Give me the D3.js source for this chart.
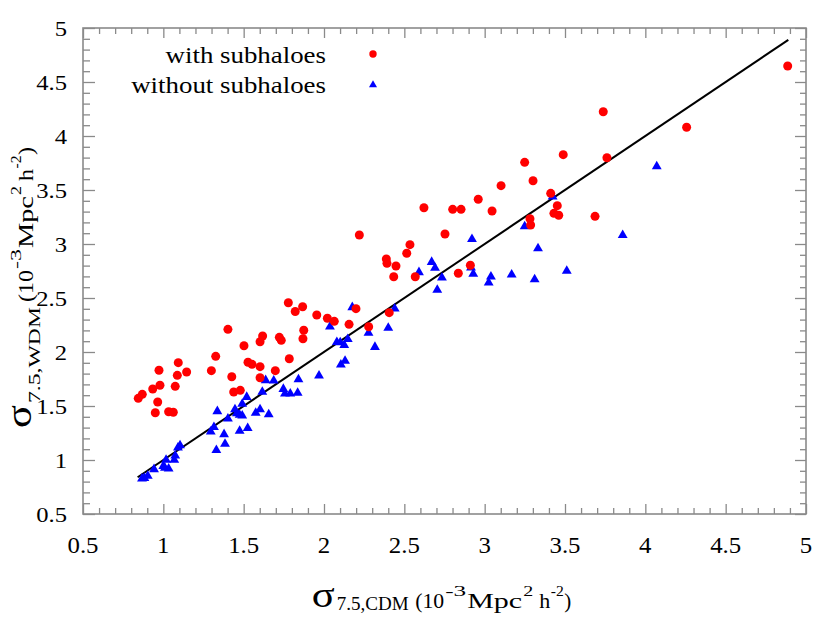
<!DOCTYPE html>
<html>
<head>
<meta charset="utf-8">
<script src="https://cdn.jsdelivr.net/npm/d3@7"></script>
<style>
  html, body { margin: 0; padding: 0; background: #fff; }
  svg text { font-family: "Liberation Serif", "Times New Roman", serif; fill: #000; }
</style>
</head>
<body>
<svg id="chart" width="822" height="640"></svg>
<script>
// ---- data ----
const withX = [0.844,0.869,0.973,0.934,0.979,0.965,0.950,1.033,1.062,1.093,1.087,1.145,1.074,1.326,1.299,1.426,1.438,1.479,1.502,1.602,1.618,1.527,1.552,1.602,1.602,1.697,1.402,1.722,1.734,1.784,1.778,1.821,1.867,1.874,1.869,1.955,2.021,2.064,2.156,2.199,2.278,2.220,2.388,2.392,2.448,2.434,2.406,2.515,2.535,2.568,2.622,2.753,2.801,2.853,2.836,2.911,3.738,3.489,3.761,3.249,3.301,3.102,2.960,3.046,3.411,3.452,3.431,3.461,3.282,3.286,3.687,4.886,4.257];
const withY = [1.571,1.608,1.831,1.657,1.692,1.537,1.438,1.447,1.442,1.901,1.784,1.815,1.682,1.960,1.827,1.771,1.630,1.645,2.058,2.095,2.148,1.905,1.886,1.864,1.762,1.827,2.210,2.136,2.108,1.938,2.456,2.375,2.419,2.201,2.123,2.343,2.312,2.284,2.256,2.401,2.234,3.083,2.861,2.821,2.796,2.697,2.364,2.914,2.994,2.697,3.336,3.093,3.321,3.321,2.729,2.803,4.225,3.827,3.799,3.756,3.586,3.540,3.414,3.306,3.469,3.355,3.284,3.266,3.234,3.176,3.256,4.648,4.081];
const withoutX = [0.867,0.882,0.903,0.942,1.000,1.017,1.010,1.033,1.068,1.074,1.091,1.104,1.295,1.315,1.330,1.336,1.378,1.384,1.402,1.446,1.457,1.475,1.491,1.491,1.519,1.475,1.525,1.575,1.602,1.616,1.637,1.656,1.687,1.747,1.757,1.790,1.836,1.841,1.969,2.037,2.080,2.101,2.148,2.126,2.131,2.105,2.176,2.277,2.317,2.400,2.440,2.591,2.670,2.691,2.734,2.705,2.921,2.915,2.929,3.039,3.025,3.168,3.311,3.511,3.423,4.071,3.249,3.332,3.859];
const withoutY = [0.827,0.833,0.852,0.914,0.944,1.000,0.926,0.919,1.000,1.040,1.114,1.136,1.262,1.303,1.090,1.451,1.238,1.148,1.382,1.469,1.432,1.417,1.410,1.519,1.583,1.269,1.294,1.435,1.469,1.630,1.738,1.423,1.734,1.657,1.614,1.614,1.622,1.747,1.781,2.234,2.091,2.088,2.118,2.063,1.917,1.882,2.414,2.176,2.046,2.222,2.401,2.738,2.833,2.778,2.688,2.574,3.044,2.781,2.722,2.697,2.642,2.716,2.673,2.750,3.438,3.719,3.162,2.960,3.081];
const lineX = [0.84, 4.89];          // one-to-one reference line y = x
const tickLabels = ["0.5","1","1.5","2","2.5","3","3.5","4","4.5","5"];
const seriesNames = ["with subhaloes", "without subhaloes"];
const seriesColors = ["#ff0000", "#0000ff"];

// ---- layout ----
const svg = d3.select("#chart");
const L = 83, R = 806, T = 28, B = 514;
const x = d3.scaleLinear().domain([0.5, 5]).range([L, R]);
const y = d3.scaleLinear().domain([0.5, 5]).range([B, T]);

const majorTicks = tickLabels.map(Number);
const minorTicks = d3.range(5, 51).map(d => d / 10).filter(d => Math.abs(d * 2 - Math.round(d * 2)) > 1e-6);
const tickColor = "#8a8a8a";

function mk(axisFn, scale, ticks, size) {
  return axisFn(scale).tickValues(ticks).tickSize(size).tickSizeOuter(0).tickFormat(() => "");
}
const gB = svg.append("g").attr("transform", `translate(0,${B})`);
gB.call(mk(d3.axisTop, x, majorTicks, 10));
gB.append("g").call(mk(d3.axisTop, x, minorTicks, 6));
const gT = svg.append("g").attr("transform", `translate(0,${T})`);
gT.call(mk(d3.axisBottom, x, majorTicks, 10));
gT.append("g").call(mk(d3.axisBottom, x, minorTicks, 6));
const gL = svg.append("g").attr("transform", `translate(${L},0)`);
gL.call(mk(d3.axisRight, y, majorTicks, 12));
gL.append("g").call(mk(d3.axisRight, y, minorTicks, 7));
const gR = svg.append("g").attr("transform", `translate(${R},0)`);
gR.call(mk(d3.axisLeft, y, majorTicks, 11));
gR.append("g").call(mk(d3.axisLeft, y, minorTicks, 6));
svg.selectAll(".domain").remove();
svg.selectAll(".tick line").attr("stroke", tickColor).attr("stroke-width", 1.3);
svg.selectAll(".tick text").remove();

svg.append("rect").attr("x", L).attr("y", T).attr("width", R - L).attr("height", B - T)
  .attr("fill", "none").attr("stroke", tickColor).attr("stroke-width", 1.6);

// tick labels (slightly wide serif, as in the reference)
svg.append("g").selectAll("text").data(tickLabels).join("text")
  .attr("transform", d => `translate(${x(+d)},553) scale(1.08,1)`)
  .attr("text-anchor", "middle").attr("font-size", 23).text(d => d);
svg.append("g").selectAll("text").data(tickLabels).join("text")
  .attr("transform", d => `translate(67,${y(+d) + 7.7}) scale(1.12,1)`)
  .attr("text-anchor", "end").attr("font-size", 22).text(d => d);

// reference line
svg.append("path")
  .attr("d", d3.line().x(d => x(d)).y(d => y(d))(lineX))
  .attr("stroke", "#000").attr("stroke-width", 2).attr("fill", "none");

// points
const tri = d3.symbol().type(d3.symbolTriangle).size(42);
svg.append("g").selectAll("path").data(d3.range(withoutX.length)).join("path")
  .attr("d", tri)
  .attr("transform", i => `translate(${x(withoutX[i])},${y(withoutY[i])})`)
  .attr("fill", seriesColors[1]);
svg.append("g").selectAll("circle").data(d3.range(withX.length)).join("circle")
  .attr("cx", i => x(withX[i])).attr("cy", i => y(withY[i])).attr("r", 4.5)
  .attr("fill", seriesColors[0]);

// legend
const leg = svg.append("g");
leg.append("text").attr("transform", "translate(326,63) scale(1.12,1)").attr("text-anchor", "end").attr("font-size", 24).text(seriesNames[0]);
leg.append("text").attr("transform", "translate(326,93) scale(1.12,1)").attr("text-anchor", "end").attr("font-size", 24).text(seriesNames[1]);
leg.append("circle").attr("cx", 373).attr("cy", 54).attr("r", 3.7).attr("fill", seriesColors[0]);
leg.append("path").attr("d", d3.symbol().type(d3.symbolTriangle).size(28)).attr("transform", "translate(373,85)").attr("fill", seriesColors[1]);

// axis titles built from parts: [text, font-size, target width, baseline shift, gap before]
function buildTitle(g, parts) {
  let cur = 0;
  parts.forEach(([t, size, w, dy, gap]) => {
    cur += gap;
    const el = g.append("text").attr("font-size", size).text(t);
    const nat = el.node().getComputedTextLength();
    el.attr("transform", `translate(${cur},${dy}) scale(${w / nat},1)`);
    cur += w;
  });
}
const xTitle = svg.append("g").attr("transform", "translate(311.7,608)");
buildTitle(xTitle, [
  ["σ", 35, 23, -1, 0],
  ["7.5,CDM", 19, 72, 2, 2],
  ["(10", 21, 29, 0, 6.5],
  ["-3", 15, 21, -12, 1],
  ["Mpc", 21, 55, 0, 1],
  ["2", 15, 10, -12, 1],
  ["h", 21, 11, 0, 6],
  ["-2", 15, 13, -12, 0.5],
  [")", 21, 7, 0, 0.5]
]);
const yTitle = svg.append("g").attr("transform", "translate(33,428) rotate(-90)");
buildTitle(yTitle, [
  ["σ", 35, 23, -2, 0],
  ["7.5,WDM", 17, 96, 7, 2],
  ["(10", 21, 32, 0, 5],
  ["-3", 15, 20, -12, 1],
  ["Mpc", 21, 52, 0, 1],
  ["2", 15, 9, -12, 1],
  ["h", 21, 12, 0, 5],
  ["-2", 15, 13, -12, 0.5],
  [")", 21, 8, 0, 0.5]
]);
</script>
</body>
</html>
